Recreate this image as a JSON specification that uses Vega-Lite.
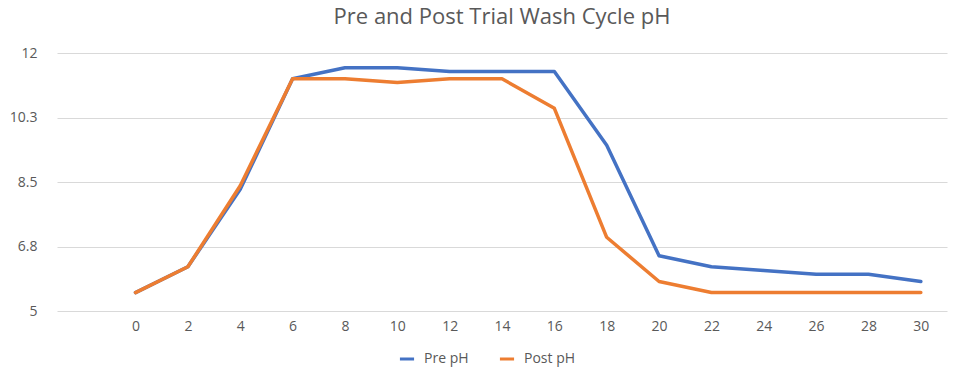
{
  "$schema": "https://vega.github.io/schema/vega-lite/v6.json",
  "autosize": {"type": "none"},
  "width": 890,
  "height": 258,
  "padding": {"left": 57, "top": 53, "right": 9, "bottom": 63},
  "background": "white",
  "title": {
    "text": "Pre and Post Trial Wash Cycle pH",
    "font": "Open Sans",
    "fontSize": 22,
    "fontWeight": "normal",
    "color": "#595959",
    "anchor": "middle",
    "offset": 17
  },
  "data": {
    "values": [
      {"t": 0, "series": "Pre pH", "pH": 5.5},
      {"t": 2, "series": "Pre pH", "pH": 6.2},
      {"t": 4, "series": "Pre pH", "pH": 8.3},
      {"t": 6, "series": "Pre pH", "pH": 11.3},
      {"t": 8, "series": "Pre pH", "pH": 11.6},
      {"t": 10, "series": "Pre pH", "pH": 11.6},
      {"t": 12, "series": "Pre pH", "pH": 11.5},
      {"t": 14, "series": "Pre pH", "pH": 11.5},
      {"t": 16, "series": "Pre pH", "pH": 11.5},
      {"t": 18, "series": "Pre pH", "pH": 9.5},
      {"t": 20, "series": "Pre pH", "pH": 6.5},
      {"t": 22, "series": "Pre pH", "pH": 6.2},
      {"t": 24, "series": "Pre pH", "pH": 6.1},
      {"t": 26, "series": "Pre pH", "pH": 6.0},
      {"t": 28, "series": "Pre pH", "pH": 6.0},
      {"t": 30, "series": "Pre pH", "pH": 5.8},
      {"t": 0, "series": "Post pH", "pH": 5.5},
      {"t": 2, "series": "Post pH", "pH": 6.2},
      {"t": 4, "series": "Post pH", "pH": 8.4},
      {"t": 6, "series": "Post pH", "pH": 11.3},
      {"t": 8, "series": "Post pH", "pH": 11.3},
      {"t": 10, "series": "Post pH", "pH": 11.2},
      {"t": 12, "series": "Post pH", "pH": 11.3},
      {"t": 14, "series": "Post pH", "pH": 11.3},
      {"t": 16, "series": "Post pH", "pH": 10.5},
      {"t": 18, "series": "Post pH", "pH": 7.0},
      {"t": 20, "series": "Post pH", "pH": 5.8},
      {"t": 22, "series": "Post pH", "pH": 5.5},
      {"t": 24, "series": "Post pH", "pH": 5.5},
      {"t": 26, "series": "Post pH", "pH": 5.5},
      {"t": 28, "series": "Post pH", "pH": 5.5},
      {"t": 30, "series": "Post pH", "pH": 5.5}
    ]
  },
  "mark": {"type": "line", "strokeWidth": 3.5, "strokeJoin": "round", "strokeCap": "round"},
  "encoding": {
    "x": {
      "field": "t",
      "type": "quantitative",
      "scale": {"domain": [-3, 31], "nice": false, "zero": false},
      "axis": {
        "title": null,
        "values": [0, 2, 4, 6, 8, 10, 12, 14, 16, 18, 20, 22, 24, 26, 28, 30],
        "grid": false,
        "ticks": false,
        "domain": false,
        "labelPadding": 8,
        "labelFont": "Open Sans",
        "labelFontSize": 14,
        "labelColor": "#595959"
      }
    },
    "y": {
      "field": "pH",
      "type": "quantitative",
      "scale": {"domain": [5, 12], "nice": false, "zero": false},
      "axis": {
        "title": null,
        "values": [5, 6.75, 8.5, 10.25, 12],
        "labelExpr": "replace(format(datum.value, '.1f'), '.0', '')",
        "grid": true,
        "gridColor": "#D9D9D9",
        "gridWidth": 1,
        "ticks": false,
        "domain": false,
        "labelPadding": 20,
        "labelFont": "Open Sans",
        "labelFontSize": 14,
        "labelColor": "#595959"
      }
    },
    "color": {
      "field": "series",
      "type": "nominal",
      "sort": ["Pre pH", "Post pH"],
      "scale": {"domain": ["Pre pH", "Post pH"], "range": ["#4472C4", "#ED7D31"]},
      "legend": {
        "title": null,
        "orient": "none",
        "legendX": 341,
        "legendY": 297,
        "direction": "horizontal",
        "symbolType": "stroke",
        "symbolSize": 200,
        "symbolStrokeWidth": 3,
        "labelOffset": 8,
        "labelFont": "Open Sans",
        "labelFontSize": 14,
        "labelColor": "#595959",
        "columnPadding": 24
      }
    }
  },
  "config": {"view": {"stroke": null}}
}
